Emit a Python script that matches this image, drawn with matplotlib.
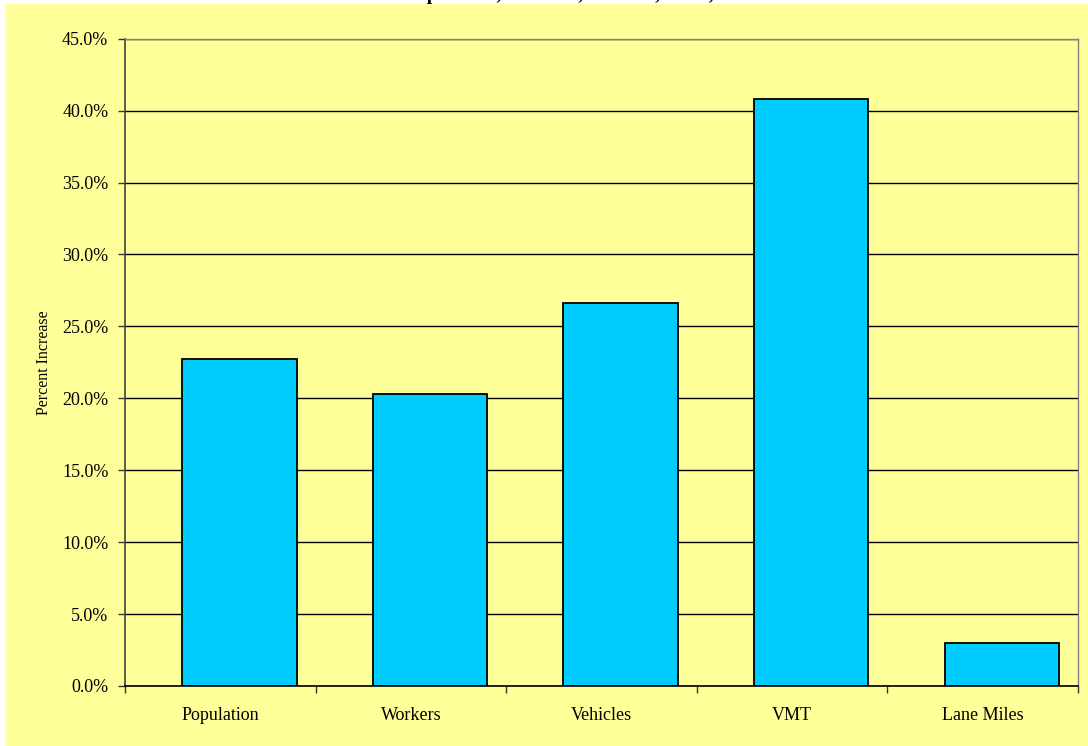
import matplotlib
matplotlib.use("Agg")
import matplotlib.pyplot as plt
from matplotlib.patches import Rectangle
from matplotlib.ticker import FixedLocator

categories = ["Population", "Workers", "Vehicles", "VMT", "Lane Miles"]
values = [22.75, 20.3, 26.6, 40.8, 3.0]
yticks = [0, 5, 10, 15, 20, 25, 30, 35, 40, 45]
ylabel = "Percent Increase"
title = "Percent Increase in Population, Workers, Vehicles, VMT, and Lane Miles"

plt.rcParams['font.family'] = ['Liberation Serif', 'DejaVu Serif']

W, H = 1088, 746
fig = plt.figure(figsize=(W / 100, H / 100), dpi=100)
fig.patch.set_facecolor('white')

bg = fig.add_axes([5 / W, 0, 1 - 5 / W, 1 - 4 / H], zorder=-5)
bg.set_facecolor('#FFFF99')
bg.set_axis_off()
bg.add_patch(Rectangle((0, 0), 1, 1, transform=bg.transAxes, facecolor='#FFFF99', edgecolor='none'))

left, right, top, bottom = 125, 1078, 38.7, 686
ax = fig.add_axes([left / W, 1 - bottom / H, (right - left) / W, (bottom - top) / H], zorder=1)
ax.set_facecolor('#FFFF99')

x = list(range(len(categories)))
bar_offset = 0.1
ax.bar([i + bar_offset for i in x], values, width=0.6, color='#00CCFF',
       edgecolor='black', linewidth=1.3, zorder=3)

ax.set_xlim(-0.5, len(categories) - 0.5)
ax.set_ylim(0, 45)
ax.set_yticks(yticks)
ax.set_yticklabels([f"{v:.1f}%" for v in yticks], fontsize=13)
ax.yaxis.grid(True, color='black', linewidth=1.0, zorder=1)
ax.set_axisbelow(True)

ax.xaxis.set_major_locator(FixedLocator([i - 0.5 for i in range(len(categories) + 1)]))
ax.xaxis.set_major_formatter(plt.NullFormatter())
ax.xaxis.set_minor_locator(FixedLocator(x))
ax.set_xticklabels(categories, minor=True, fontsize=13)
ax.tick_params(axis='x', which='minor', length=0, pad=15)
ax.tick_params(axis='x', which='major', length=5, direction='out', width=1, color='#333333')
ax.tick_params(axis='y', length=5, direction='out', width=1, pad=7, color='#333333')

ax.set_ylabel(ylabel, fontsize=11.5, labelpad=7)

for s in ['top', 'right']:
    ax.spines[s].set_color('#808080')
    ax.spines[s].set_linewidth(1.0)
ax.spines['left'].set_color('#404040')
ax.spines['left'].set_linewidth(1.2)
ax.spines['bottom'].set_color('black')
ax.spines['bottom'].set_linewidth(1.2)

fig.text(0.5, 1.0, title, ha='center', va='baseline', fontsize=14, fontweight='bold', zorder=10)

fig.savefig('out.png', dpi=100, facecolor=fig.get_facecolor())
